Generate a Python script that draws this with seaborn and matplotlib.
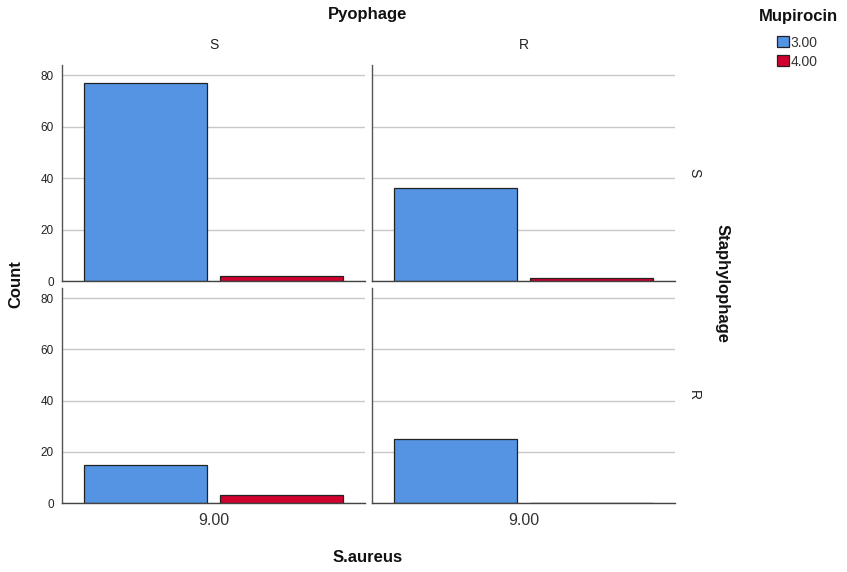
import matplotlib
matplotlib.use("Agg")
import matplotlib.pyplot as plt
from matplotlib.patches import Patch
import seaborn as sns
import pandas as pd

# ---- data ----
pyophage_levels = ["S", "R"]          # columns
staphylophage_levels = ["S", "R"]     # rows
saureus_levels = ["9.00"]
mupirocin_levels = ["3.00", "4.00"]
# counts per facet: [count for 3.00, count for 4.00]
counts_SS = [77, 2]
counts_SR = [36, 1]
counts_RS = [15, 3]
counts_RR = [25, 0]

rows = []
for (st, py, vals) in [("S", "S", counts_SS), ("S", "R", counts_SR),
                       ("R", "S", counts_RS), ("R", "R", counts_RR)]:
    for m, c in zip(mupirocin_levels, vals):
        rows.append({"Staphylophage": st, "Pyophage": py, "S.aureus": saureus_levels[0],
                     "Mupirocin": m, "Count": c})
df = pd.DataFrame(rows)

colors = ["#5494e3", "#d0002f"]

sns.set_theme(style="white")
plt.rcParams["font.family"] = ["Liberation Sans", "DejaVu Sans"]

W, H = 847, 572
fig = plt.figure(figsize=(W / 100, H / 100), dpi=100)

col_x = [(62, 365), (372, 675)]
row_y = [(65, 281), (288, 503)]

for ri, st in enumerate(staphylophage_levels):
    for ci, py in enumerate(pyophage_levels):
        x0, x1 = col_x[ci]
        y0, y1 = row_y[ri]
        ax = fig.add_axes([x0 / W, (H - y1) / H, (x1 - x0) / W, (y1 - y0) / H])
        sub = df[(df["Staphylophage"] == st) & (df["Pyophage"] == py)]
        sns.barplot(data=sub, x="S.aureus", y="Count", hue="Mupirocin",
                    order=saureus_levels, hue_order=mupirocin_levels,
                    palette=colors, width=0.9, gap=0.1, edgecolor="#222222",
                    linewidth=0.9, ax=ax, legend=False, errorbar=None, saturation=1)
        ax.set_xlim(-0.5, 0.5)
        ax.set_ylim(0, 84)
        ax.set_yticks([0, 20, 40, 60, 80])
        ax.yaxis.grid(True, color="#c8c8c8", linewidth=1)
        ax.set_axisbelow(True)
        ax.set_xlabel("")
        ax.set_ylabel("")
        for s in ["top", "right"]:
            ax.spines[s].set_visible(False)
        ax.spines["left"].set_color("#555555")
        ax.spines["bottom"].set_color("#444444")
        ax.spines["left"].set_linewidth(1)
        ax.spines["bottom"].set_linewidth(1)
        ax.tick_params(axis="both", length=0)
        if ci == 0:
            ax.tick_params(axis="y", labelsize=8.5, labelcolor="#222222", pad=6)
        else:
            ax.set_yticklabels([])
        if ri == 1:
            ax.tick_params(axis="x", labelsize=11.5, labelcolor="#333333", pad=7)
        else:
            ax.set_xticklabels([])
        if ri == 0:
            ax.text(0.5, 1.06, py, transform=ax.transAxes, ha="center", va="bottom",
                    fontsize=10, color="#222222")
        if ci == 1:
            ax.text(1.04, 0.5, st, transform=ax.transAxes, ha="left", va="center",
                    rotation=-90, fontsize=10, color="#222222")

fig.text(368 / W, 1 - 15 / H, "Pyophage", ha="center", va="center",
         fontsize=12, fontweight="bold", color="#111111")
fig.text(368 / W, 1 - 558 / H, "S.aureus", ha="center", va="center",
         fontsize=12, fontweight="bold", color="#111111")
fig.text(16 / W, 1 - 284 / H, "Count", ha="center", va="center", rotation=90,
         fontsize=12, fontweight="bold", color="#111111")
fig.text(722 / W, 1 - 284 / H, "Staphylophage", ha="center", va="center", rotation=-90,
         fontsize=12, fontweight="bold", color="#111111")

# legend
fig.text(798 / W, 1 - 16 / H, "Mupirocin", ha="center", va="center",
         fontsize=12, fontweight="bold", color="#111111")
handles = [Patch(facecolor=c, edgecolor="#222222", linewidth=0.9) for c in colors]
leg = fig.legend(handles, mupirocin_levels,
                 loc="upper left", bbox_to_anchor=(767 / W, 1 - 26 / H),
                 frameon=False, fontsize=10, handlelength=0.85, handleheight=0.85,
                 handletextpad=0.15, labelspacing=0.35, borderpad=0.2)
for t in leg.get_texts():
    t.set_color("#333333")

fig.savefig("out.png", dpi=100)
